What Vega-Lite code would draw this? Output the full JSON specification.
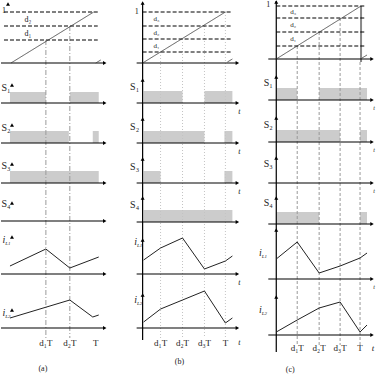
{
"$schema": "https://vega.github.io/schema/vega-lite/v6.json",
"width": 377, "height": 374, "padding": 0,
"autosize": {"type": "fit", "contains": "padding"},
"background": "white",
"config": {"view": {"stroke": null}},
"datasets": {
"rects": [
{"x":9,"x2":45,"y":92,"y2":103},{"x":69,"x2":98,"y":92,"y2":103},{"x":9,"x2":68,"y":131,"y2":143},{"x":92,"x2":98,"y":131,"y2":143},{"x":9,"x2":98,"y":171,"y2":183},
{"x":143,"x2":182,"y":91,"y2":103},{"x":204,"x2":232,"y":91,"y2":103},{"x":143,"x2":204,"y":131,"y2":143},{"x":224,"x2":232,"y":131,"y2":143},{"x":143,"x2":160,"y":171,"y2":183},{"x":224,"x2":232,"y":171,"y2":183},{"x":143,"x2":232,"y":210,"y2":222},
{"x":276,"x2":297,"y":88,"y2":100},{"x":319,"x2":367,"y":88,"y2":100},{"x":276,"x2":340,"y":130,"y2":142},{"x":360,"x2":367,"y":130,"y2":142},{"x":276,"x2":319,"y":212,"y2":224},{"x":360,"x2":367,"y":212,"y2":224}
],
"segs": [
{"x":45,"y":40,"x2":45,"y2":338,"d":"dd","c":"#9a9a9a","w":1},{"x":69,"y":26,"x2":69,"y2":338,"d":"dd","c":"#9a9a9a","w":1},
{"x":160,"y":52,"x2":160,"y2":338,"d":"o","c":"#c4c4c4","w":1},{"x":182,"y":39,"x2":182,"y2":338,"d":"o","c":"#c4c4c4","w":1},{"x":204,"y":26,"x2":204,"y2":338,"d":"o","c":"#c4c4c4","w":1},{"x":225,"y":12,"x2":225,"y2":338,"d":"o","c":"#c4c4c4","w":1},
{"x":297,"y":46,"x2":297,"y2":345,"d":"g","c":"#999999","w":1},{"x":319,"y":32,"x2":319,"y2":345,"d":"g","c":"#999999","w":1},{"x":340,"y":18,"x2":340,"y2":345,"d":"g","c":"#999999","w":1},{"x":360,"y":62,"x2":360,"y2":345,"d":"g","c":"#999999","w":1},
{"x":361,"y":6,"x2":361,"y2":62,"d":"s","c":"#888888","w":2},
{"x":0,"y":63,"x2":103,"y2":63,"d":"s","c":"#000","w":1.2},{"x":0,"y":103,"x2":103,"y2":103,"d":"s","c":"#000","w":1.2},{"x":0,"y":143,"x2":103,"y2":143,"d":"s","c":"#000","w":1.2},{"x":0,"y":183,"x2":103,"y2":183,"d":"s","c":"#000","w":1.2},{"x":0,"y":221,"x2":103,"y2":221,"d":"s","c":"#000","w":1.2},{"x":0,"y":274,"x2":103,"y2":274,"d":"s","c":"#000","w":1.2},{"x":0,"y":328,"x2":103,"y2":328,"d":"s","c":"#000","w":1.2},
{"x":3,"y":12,"x2":97,"y2":12,"d":"k","c":"#000","w":1},{"x":3,"y":26,"x2":97,"y2":26,"d":"k","c":"#000","w":1},{"x":3,"y":40,"x2":97,"y2":40,"d":"k","c":"#000","w":1},
{"x":10,"y":63,"x2":93,"y2":12,"d":"s","c":"#333","w":0.8},{"x":95,"y":63,"x2":100,"y2":60,"d":"s","c":"#333","w":0.8},
{"x":142,"y":3,"x2":142,"y2":340,"d":"s","c":"#000","w":1.2},
{"x":136,"y":63,"x2":236,"y2":63,"d":"s","c":"#000","w":1.2},{"x":136,"y":103,"x2":236,"y2":103,"d":"s","c":"#000","w":1.2},{"x":136,"y":143,"x2":236,"y2":143,"d":"s","c":"#000","w":1.2},{"x":136,"y":183,"x2":236,"y2":183,"d":"s","c":"#000","w":1.2},{"x":136,"y":222,"x2":236,"y2":222,"d":"s","c":"#000","w":1.2},{"x":136,"y":274,"x2":236,"y2":274,"d":"s","c":"#000","w":1.2},{"x":136,"y":328,"x2":236,"y2":328,"d":"s","c":"#000","w":1.2},
{"x":142,"y":12,"x2":232,"y2":12,"d":"k","c":"#000","w":1},{"x":142,"y":26,"x2":232,"y2":26,"d":"k","c":"#000","w":1},{"x":142,"y":39,"x2":232,"y2":39,"d":"k","c":"#000","w":1},{"x":142,"y":52,"x2":232,"y2":52,"d":"k","c":"#000","w":1},
{"x":142,"y":63,"x2":225,"y2":12,"d":"s","c":"#333","w":0.8},{"x":227,"y":62,"x2":232,"y2":59,"d":"s","c":"#333","w":0.8},
{"x":276,"y":1,"x2":276,"y2":352,"d":"s","c":"#000","w":1.2},
{"x":268,"y":59,"x2":371,"y2":59,"d":"s","c":"#000","w":1.2},{"x":268,"y":100,"x2":371,"y2":100,"d":"s","c":"#000","w":1.2},{"x":268,"y":142,"x2":371,"y2":142,"d":"s","c":"#000","w":1.2},{"x":268,"y":183,"x2":371,"y2":183,"d":"s","c":"#000","w":1.2},{"x":268,"y":224,"x2":371,"y2":224,"d":"s","c":"#000","w":1.2},{"x":268,"y":279,"x2":371,"y2":279,"d":"s","c":"#000","w":1.2},{"x":268,"y":335,"x2":371,"y2":335,"d":"s","c":"#000","w":1.2},
{"x":276,"y":6,"x2":366,"y2":6,"d":"k","c":"#000","w":1},{"x":276,"y":18,"x2":366,"y2":18,"d":"k","c":"#000","w":1},{"x":276,"y":32,"x2":366,"y2":32,"d":"k","c":"#000","w":1},{"x":276,"y":46,"x2":366,"y2":46,"d":"k","c":"#000","w":1},
{"x":276,"y":59,"x2":361,"y2":6,"d":"s","c":"#333","w":0.8},{"x":362,"y":58,"x2":367,"y2":55,"d":"s","c":"#333","w":0.8}
],
"polys": [
{"id":"aL1","k":1,"x":9,"y":266},{"id":"aL1","k":2,"x":45,"y":249},{"id":"aL1","k":3,"x":69,"y":268},{"id":"aL1","k":4,"x":98,"y":257},
{"id":"aL2","k":1,"x":9,"y":318},{"id":"aL2","k":2,"x":69,"y":300},{"id":"aL2","k":3,"x":92,"y":317},{"id":"aL2","k":4,"x":98,"y":315},
{"id":"bL1","k":1,"x":143,"y":260},{"id":"bL1","k":2,"x":160,"y":248},{"id":"bL1","k":3,"x":182,"y":238},{"id":"bL1","k":4,"x":204,"y":269},{"id":"bL1","k":5,"x":225,"y":261},{"id":"bL1","k":6,"x":232,"y":256},
{"id":"bL2","k":1,"x":143,"y":322},{"id":"bL2","k":2,"x":160,"y":309},{"id":"bL2","k":3,"x":182,"y":300},{"id":"bL2","k":4,"x":204,"y":291},{"id":"bL2","k":5,"x":225,"y":323},{"id":"bL2","k":6,"x":232,"y":318},
{"id":"cL1","k":1,"x":276,"y":259},{"id":"cL1","k":2,"x":297,"y":242},{"id":"cL1","k":3,"x":319,"y":273},{"id":"cL1","k":4,"x":340,"y":266},{"id":"cL1","k":5,"x":360,"y":258},{"id":"cL1","k":6,"x":367,"y":253},
{"id":"cL2","k":1,"x":276,"y":332},{"id":"cL2","k":2,"x":297,"y":320},{"id":"cL2","k":3,"x":319,"y":308},{"id":"cL2","k":4,"x":340,"y":302},{"id":"cL2","k":5,"x":360,"y":332},{"id":"cL2","k":6,"x":367,"y":325}
],
"arrows": [
{"x":104,"y":63,"s":"triangle-right"},{"x":104,"y":103,"s":"triangle-right"},{"x":104,"y":143,"s":"triangle-right"},{"x":104,"y":183,"s":"triangle-right"},{"x":104,"y":221,"s":"triangle-right"},{"x":104,"y":274,"s":"triangle-right"},{"x":104,"y":328,"s":"triangle-right"},
{"x":237,"y":63,"s":"triangle-right"},{"x":237,"y":103,"s":"triangle-right"},{"x":237,"y":143,"s":"triangle-right"},{"x":237,"y":183,"s":"triangle-right"},{"x":237,"y":222,"s":"triangle-right"},{"x":237,"y":274,"s":"triangle-right"},{"x":237,"y":328,"s":"triangle-right"},
{"x":372,"y":59,"s":"triangle-right"},{"x":372,"y":100,"s":"triangle-right"},{"x":372,"y":142,"s":"triangle-right"},{"x":372,"y":183,"s":"triangle-right"},{"x":372,"y":224,"s":"triangle-right"},{"x":372,"y":279,"s":"triangle-right"},{"x":372,"y":335,"s":"triangle-right"},
{"x":7,"y":4,"s":"triangle-up"},{"x":11,"y":85,"s":"triangle-up"},{"x":11,"y":125,"s":"triangle-up"},{"x":11,"y":164,"s":"triangle-up"},{"x":11,"y":203,"s":"triangle-up"},{"x":11,"y":237,"s":"triangle-up"},{"x":11,"y":310,"s":"triangle-up"},
{"x":142,"y":3,"s":"triangle-up"},{"x":142,"y":80,"s":"triangle-up"},{"x":142,"y":119,"s":"triangle-up"},{"x":142,"y":159,"s":"triangle-up"},{"x":142,"y":198,"s":"triangle-up"},{"x":142,"y":240,"s":"triangle-up"},{"x":142,"y":295,"s":"triangle-up"},
{"x":276,"y":2,"s":"triangle-up"},{"x":276,"y":77,"s":"triangle-up"},{"x":276,"y":118,"s":"triangle-up"},{"x":276,"y":158,"s":"triangle-up"},{"x":276,"y":198,"s":"triangle-up"},{"x":276,"y":230,"s":"triangle-up"},{"x":276,"y":297,"s":"triangle-up"}
],
"texts": [
{"x":3,"y":11,"t":"1","z":8},{"x":27,"y":20,"t":"d₂","z":8},{"x":27,"y":34,"t":"d₁","z":8},
{"x":5,"y":88,"t":"S₁","z":10},{"x":5,"y":128,"t":"S₂","z":10},{"x":5,"y":166,"t":"S₃","z":10},{"x":5,"y":204,"t":"S₄","z":10},
{"x":45,"y":343,"t":"d₁T","z":9},{"x":69,"y":343,"t":"d₂T","z":9},{"x":95,"y":343,"t":"T","z":9},{"x":42,"y":369,"t":"(a)","z":8},
{"x":136,"y":12,"t":"1","z":8},{"x":156,"y":19,"t":"d₃","z":7},{"x":156,"y":32.5,"t":"d₂","z":7},{"x":156,"y":45.5,"t":"d₁","z":7},
{"x":134,"y":87,"t":"S₁","z":10},{"x":134,"y":127,"t":"S₂","z":10},{"x":134,"y":167,"t":"S₃","z":10},{"x":134,"y":205,"t":"S₄","z":10},
{"x":160,"y":343,"t":"d₁T","z":9},{"x":182,"y":343,"t":"d₂T","z":9},{"x":204,"y":343,"t":"d₃T","z":9},{"x":225,"y":343,"t":"T","z":9},{"x":179,"y":362,"t":"(b)","z":8},
{"x":268,"y":5,"t":"1","z":8},{"x":293,"y":12,"t":"d₃","z":7},{"x":293,"y":25,"t":"d₂","z":7},{"x":293,"y":39,"t":"d₁","z":7},
{"x":268,"y":83,"t":"S₁","z":10},{"x":268,"y":125,"t":"S₂","z":10},{"x":268,"y":164,"t":"S₃","z":10},{"x":268,"y":203,"t":"S₄","z":10},
{"x":297,"y":348,"t":"d₁T","z":9},{"x":319,"y":348,"t":"d₂T","z":9},{"x":340,"y":348,"t":"d₃T","z":9},{"x":360,"y":348,"t":"T","z":9},{"x":290,"y":370,"t":"(c)","z":8}
],
"itexts": [
{"x":3,"y":240,"t":"i","z":10},{"x":7,"y":243,"t":"L1","z":5},{"x":3,"y":313,"t":"i","z":10},{"x":7,"y":316,"t":"L2","z":5},
{"x":135,"y":242,"t":"i","z":10},{"x":139,"y":245,"t":"L1","z":5},{"x":135,"y":300,"t":"i","z":10},{"x":139,"y":303,"t":"L2","z":5},
{"x":260,"y":253,"t":"i","z":10},{"x":264,"y":256,"t":"L1","z":5},{"x":260,"y":310,"t":"i","z":10},{"x":264,"y":313,"t":"L2","z":5},
{"x":239,"y":112,"t":"t","z":8},{"x":239,"y":152,"t":"t","z":8},{"x":239,"y":192,"t":"t","z":8},{"x":239,"y":283,"t":"t","z":8},{"x":239,"y":343,"t":"t","z":8},
{"x":374,"y":108,"t":"t","z":6},{"x":374,"y":150,"t":"t","z":6},{"x":374,"y":191,"t":"t","z":6},{"x":374,"y":287,"t":"t","z":6},{"x":373,"y":348,"t":"t","z":9}
]
},
"layer": [
{"data": {"name": "rects"}, "mark": {"type": "rect", "color": "#cccccc"},
 "encoding": {"x": {"field": "x", "type": "quantitative", "scale": {"domain": [0, 377], "nice": false, "zero": false}, "axis": null},
  "x2": {"field": "x2"},
  "y": {"field": "y", "type": "quantitative", "scale": {"domain": [0, 374], "nice": false, "zero": false, "reverse": true}, "axis": null},
  "y2": {"field": "y2"}}},
{"data": {"name": "segs"}, "mark": {"type": "rule"},
 "encoding": {"x": {"field": "x", "type": "quantitative", "scale": {"domain": [0, 377], "nice": false, "zero": false}, "axis": null},
  "x2": {"field": "x2"},
  "y": {"field": "y", "type": "quantitative", "scale": {"domain": [0, 374], "nice": false, "zero": false, "reverse": true}, "axis": null},
  "y2": {"field": "y2"},
  "color": {"field": "c", "type": "nominal", "scale": null},
  "strokeWidth": {"field": "w", "type": "quantitative", "scale": null},
  "strokeDash": {"field": "d", "type": "nominal", "scale": {"domain": ["s", "k", "o", "dd", "g"], "range": [[1, 0], [4, 2], [1, 2], [5, 2, 1, 2], [3, 2]]}, "legend": null}}},
{"data": {"name": "polys"}, "mark": {"type": "line", "color": "#222", "strokeWidth": 1},
 "encoding": {"x": {"field": "x", "type": "quantitative", "scale": {"domain": [0, 377], "nice": false, "zero": false}, "axis": null},
  "y": {"field": "y", "type": "quantitative", "scale": {"domain": [0, 374], "nice": false, "zero": false, "reverse": true}, "axis": null},
  "detail": {"field": "id", "type": "nominal"},
  "order": {"field": "k", "type": "quantitative"}}},
{"data": {"name": "arrows"}, "mark": {"type": "point", "filled": true, "color": "#000", "size": 16, "opacity": 1},
 "encoding": {"x": {"field": "x", "type": "quantitative", "scale": {"domain": [0, 377], "nice": false, "zero": false}, "axis": null},
  "y": {"field": "y", "type": "quantitative", "scale": {"domain": [0, 374], "nice": false, "zero": false, "reverse": true}, "axis": null},
  "shape": {"field": "s", "type": "nominal", "scale": null}}},
{"data": {"name": "texts"}, "mark": {"type": "text", "font": "Liberation Serif", "color": "#222", "align": "center", "baseline": "middle"},
 "encoding": {"x": {"field": "x", "type": "quantitative", "scale": {"domain": [0, 377], "nice": false, "zero": false}, "axis": null},
  "y": {"field": "y", "type": "quantitative", "scale": {"domain": [0, 374], "nice": false, "zero": false, "reverse": true}, "axis": null},
  "text": {"field": "t", "type": "nominal"},
  "size": {"field": "z", "type": "quantitative", "scale": null}}},
{"data": {"name": "itexts"}, "mark": {"type": "text", "font": "Liberation Serif", "fontStyle": "italic", "color": "#222", "align": "center", "baseline": "middle"},
 "encoding": {"x": {"field": "x", "type": "quantitative", "scale": {"domain": [0, 377], "nice": false, "zero": false}, "axis": null},
  "y": {"field": "y", "type": "quantitative", "scale": {"domain": [0, 374], "nice": false, "zero": false, "reverse": true}, "axis": null},
  "text": {"field": "t", "type": "nominal"},
  "size": {"field": "z", "type": "quantitative", "scale": null}}}
]
}
